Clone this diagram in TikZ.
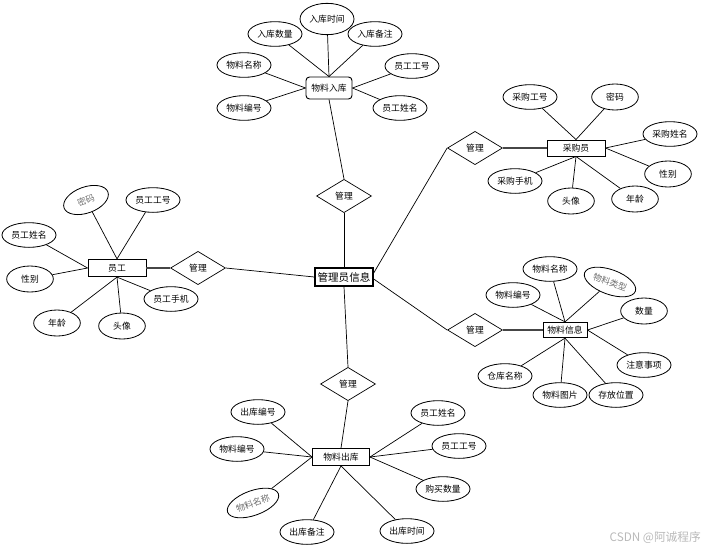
\documentclass[tikz,border=0pt]{standalone}
\usepackage{fontspec}
\setmainfont{Noto Sans CJK SC}
\definecolor{linegray}{RGB}{70,70,70}
\definecolor{faintgray}{RGB}{110,110,110}
\definecolor{markgray}{RGB}{185,185,185}
\usetikzlibrary{shapes,arrows,positioning,calc,fit,backgrounds}

\tikzset{
  attr/.style={ellipse, draw, line width=0.7pt, minimum width=1.62cm, minimum height=0.74cm, inner sep=0pt, font=\fontsize{7.5}{9}\selectfont},
  shortattr/.style={attr, minimum width=1.4cm, minimum height=0.78cm},
  faint/.style={text=faintgray},
  entity/.style={rectangle, draw, line width=0.8pt, minimum width=1.74cm, minimum height=0.52cm, inner sep=1pt, font=\fontsize{7.5}{9}\selectfont},
  rel/.style={diamond, draw, line width=0.6pt, aspect=1.7, minimum width=1.65cm, minimum height=1cm, inner sep=0pt, font=\fontsize{7.5}{9}\selectfont},
  link/.style={draw, line width=0.6pt},
  heavylink/.style={draw, line width=1.1pt, linegray}
}

\begin{document}
\begin{tikzpicture}[x=0.03cm, y=-0.03cm]
  \useasboundingbox (0,0) rectangle (709,553);

  % central entity and relations
  \node[entity, line width=1.2pt, minimum width=1.74cm, minimum height=0.54cm, font=\fontsize{9}{10}\selectfont] (admin) at (344,277) {管理员信息};
  \node[rel] (mgtop) at (344,196) {管理};
  \node[rel] (mgbottom) at (348,384) {管理};
  \node[rel] (mgleft) at (198,268) {管理};
  \node[rel] (mgbuyer) at (475,148) {管理};
  \node[rel] (mgitem) at (475,330) {管理};

  % 物料入库
  \node[entity, rounded corners=3pt, minimum width=1.38cm, minimum height=0.66cm] (stockin) at (329,88) {物料入库};
  \node[attr] (inqty) at (275,34) {入库数量};
  \node[attr, minimum height=0.94cm] (intime) at (327,19) {入库时间};
  \node[attr] (innote) at (375,34) {入库备注};
  \node[attr] (inname) at (244,65) {物料名称};
  \node[attr] (inempno) at (412,66) {员工工号};
  \node[attr] (inno) at (244,108) {物料编号};
  \node[attr] (inempname) at (400,108) {员工姓名};

  % 员工
  \node[entity] (staff) at (117,268) {员工};
  \node[shortattr, faint, rotate=20] (staffpwd) at (86,200) {密码};
  \node[attr] (staffno) at (153,200) {员工工号};
  \node[attr] (staffname) at (29,235) {员工姓名};
  \node[shortattr] (staffsex) at (30,279) {性别};
  \node[shortattr] (staffage) at (57,323) {年龄};
  \node[shortattr] (staffpic) at (122,326) {头像};
  \node[attr] (staffphone) at (171,299) {员工手机};

  % 采购员
  \node[entity, minimum height=0.48cm] (buyer) at (576,148) {采购员};
  \node[attr] (buyerno) at (530,97) {采购工号};
  \node[shortattr] (buyerpwd) at (615,97) {密码};
  \node[attr] (buyername) at (670,134) {采购姓名};
  \node[shortattr] (buyersex) at (668,174) {性别};
  \node[shortattr] (buyerage) at (635,199) {年龄};
  \node[shortattr] (buyerpic) at (571,201) {头像};
  \node[attr] (buyerphone) at (515,181) {采购手机};

  % 物料信息
  \node[entity, minimum width=1.32cm, minimum height=0.46cm] (item) at (565,330) {物料信息};
  \node[attr] (itemname) at (550,269) {物料名称};
  \node[attr, faint, rotate=-20] (itemtype) at (610,282) {物料类型};
  \node[attr] (itemno) at (513,295) {物料编号};
  \node[shortattr] (itemqty) at (644,311) {数量};
  \node[attr] (itemnote) at (644,365) {注意事项};
  \node[attr] (itemplace) at (616,395) {存放位置};
  \node[attr] (itempic) at (560,395) {物料图片};
  \node[attr] (itemstore) at (505,376) {仓库名称};

  % 物料出库
  \node[entity, minimum width=1.71cm, minimum height=0.51cm] (stockout) at (341,457) {物料出库};
  \node[attr] (outno) at (258,412) {出库编号};
  \node[attr] (outitemno) at (237,449) {物料编号};
  \node[attr, faint, rotate=20] (outname) at (253,503) {物料名称};
  \node[attr] (outnote) at (307,532) {出库备注};
  \node[attr] (outtime) at (407,531) {出库时间};
  \node[attr] (outempname) at (438,413) {员工姓名};
  \node[attr] (outempno) at (459,446) {员工工号};
  \node[attr] (outqty) at (443,489) {购买数量};

  % relation links
  \path[link] (stockin.south) -- (mgtop.north);
  \path[link] (mgtop.south) -- (admin.north);
  \path[link] (admin.south) -- (mgbottom.north);
  \path[link] (mgbottom.south) -- (stockout.north);
  \path[heavylink] (staff.east) -- (mgleft.west);
  \path[link] (mgleft.east) -- (admin.west);
  \path[link] ($(admin.east)+(0,-4)$) -- (mgbuyer.west);
  \path[heavylink] (mgbuyer.east) -- (buyer.west);
  \path[link] ($(admin.east)+(0,2)$) -- (mgitem.west);
  \path[heavylink] (mgitem.east) -- (item.west);

  % attribute links
  \path[link] (inqty) -- (stockin.north);
  \path[link] (intime) -- (stockin.north);
  \path[link] (innote) -- (stockin.north);
  \path[link] (inname) -- (stockin.west);
  \path[link] (inno) -- (stockin.west);
  \path[link] (inempno) -- (stockin.east);
  \path[link] (inempname) -- (stockin.east);

  \path[link] (staffpwd) -- (staff.north);
  \path[link] (staffno) -- (staff.north);
  \path[link] (staffname) -- (staff.west);
  \path[link] (staffsex) -- (staff.west);
  \path[link] (staffage) -- (staff.south);
  \path[link] (staffpic) -- (staff.south);
  \path[link] (staffphone) -- (staff.south);

  \path[link] (buyerno) -- (buyer.north);
  \path[link] (buyerpwd) -- (buyer.north);
  \path[link] (buyername) -- (buyer.east);
  \path[link] (buyersex) -- (buyer.east);
  \path[link] (buyerage) -- (buyer.south);
  \path[link] (buyerpic) -- (buyer.south);
  \path[link] (buyerphone) -- (buyer.south);

  \path[link] (itemname) -- (item.north);
  \path[link] (itemtype) -- (item.north);
  \path[link] (itemno) -- (item.north);
  \path[link] (itemqty) -- (item.east);
  \path[link] (itemnote) -- (item.east);
  \path[link] (itemplace) -- (item.south);
  \path[link] (itempic) -- (item.south);
  \path[link] (itemstore) -- (item.south);

  \path[link] (outno) -- (stockout.west);
  \path[link] (outitemno) -- (stockout.west);
  \path[link] (outname) -- (stockout.west);
  \path[link] (outnote) -- (stockout.south);
  \path[link] (outtime) -- (stockout.south);
  \path[link] (outempname) -- (stockout.east);
  \path[link] (outempno) -- (stockout.east);
  \path[link] (outqty) -- (stockout.east);

  % watermark
  \node[text=markgray, font=\fontsize{10}{12}\selectfont, anchor=east] (mark) at (705,538) {CSDN @阿诚程序};
\end{tikzpicture}
\end{document}
